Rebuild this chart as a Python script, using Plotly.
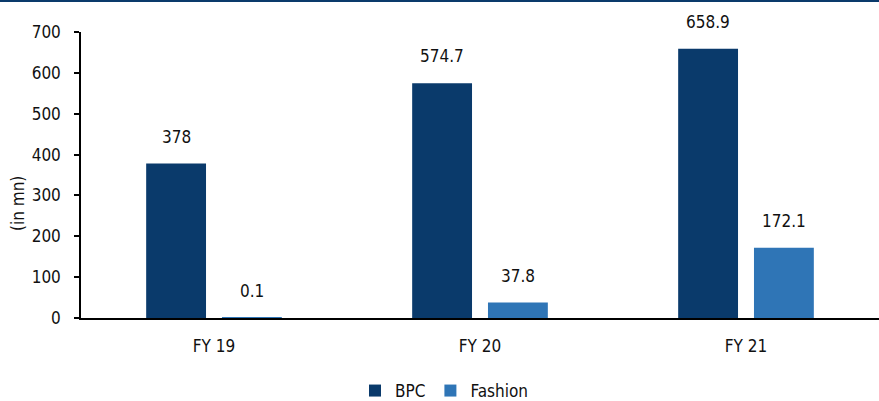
import plotly.graph_objects as go

categories = ["FY 19", "FY 20", "FY 21"]
bpc = [378, 574.7, 658.9]
fashion = [0.1, 37.8, 172.1]
bpc_labels = ["378", "574.7", "658.9"]
fashion_labels = ["0.1", "37.8", "172.1"]

BPC_COLOR = "#0a3a6b"
FASHION_COLOR = "#2f75b6"
FONT = "DejaVu Sans Condensed, Roboto, sans-serif"
FS = 17

W, H = 879, 401
M_L, M_R, M_T, M_B = 81, 0, 32, 83

fig = go.Figure()
fig.add_trace(go.Bar(
    name="BPC", x=categories, y=bpc, marker_color=BPC_COLOR,
    offset=-0.255, width=0.225, marker_line_width=0,
))
fig.add_trace(go.Bar(
    name="Fashion", x=categories, y=fashion, marker_color=FASHION_COLOR,
    offset=0.03, width=0.225, marker_line_width=0,
))

# value labels above each bar
annotations = []
for i, cat in enumerate(categories):
    for val, txt, off in ((bpc[i], bpc_labels[i], -0.1425), (fashion[i], fashion_labels[i], 0.1425)):
        annotations.append(dict(
            x=i + off, y=val, xref="x", yref="y", text=txt, showarrow=False,
            yanchor="bottom", yshift=15, font=dict(family=FONT, size=FS, color="#111111"),
        ))

# rotated axis title
annotations.append(dict(
    x=(18 - M_L) / (W - M_L - M_R), y=(318 - 204) / (H - M_T - M_B),
    xref="paper", yref="paper", xanchor="center", yanchor="middle",
    text="(in mn)", textangle=-90, showarrow=False,
    font=dict(family=FONT, size=FS, color="#111111"),
))

fig.update_layout(
    width=W, height=H,
    margin=dict(l=M_L, r=M_R, t=M_T, b=M_B, pad=0, autoexpand=False),
    paper_bgcolor="white", plot_bgcolor="white",
    font=dict(family=FONT, size=FS, color="#111111"),
    barmode="overlay",
    showlegend=True,
    legend=dict(
        orientation="h", x=(444) / W, xref="container", xanchor="center",
        y=(H - 391) / H, yref="container", yanchor="middle",
        font=dict(family=FONT, size=FS, color="#111111"),
        itemwidth=30, tracegroupgap=0,
    ),
    xaxis=dict(
        range=[-0.5, 2.5], showline=True, linecolor="#000000", linewidth=1.5,
        ticks="", showgrid=False, zeroline=False, automargin=False,
        ticklabelstandoff=12,
        tickfont=dict(family=FONT, size=FS, color="#111111"),
    ),
    yaxis=dict(
        range=[0, 700], dtick=100, showline=True, linecolor="#000000", linewidth=1.5,
        ticks="outside", ticklen=5, tickcolor="#000000", tickwidth=1.5,
        showgrid=False, zeroline=False, ticklabelstandoff=10, automargin=False,
        tickfont=dict(family=FONT, size=FS, color="#111111"),
    ),
    annotations=annotations,
    shapes=[dict(
        type="line", xref="paper", yref="paper",
        x0=-0.2, x1=1.2, y0=(H - M_B - 1) / (H - M_T - M_B), y1=(H - M_B - 1) / (H - M_T - M_B),
        line=dict(color="#0a3a6b", width=2),
    )],
)

fig.write_html("out.html")
